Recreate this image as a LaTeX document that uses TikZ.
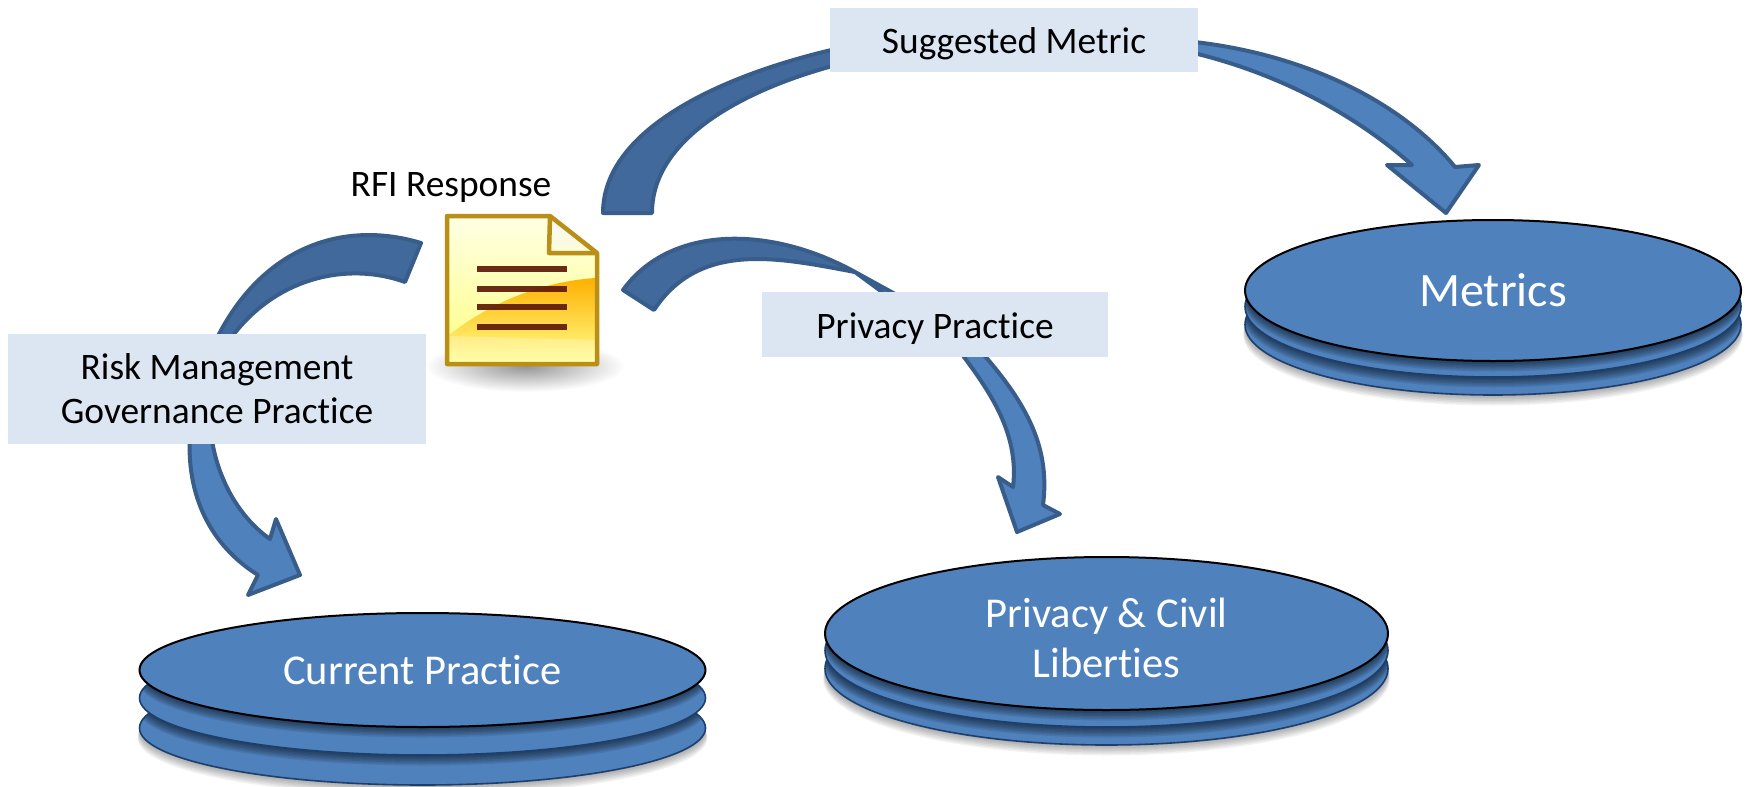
\documentclass[tikz,border=0pt]{standalone}
\usepackage{fontspec}
\setmainfont[Ligatures=NoCommon]{Carlito}
\usetikzlibrary{shapes.geometric}
\definecolor{lightblue}{HTML}{4F81BD}
\definecolor{darkblue}{HTML}{41699B}
\definecolor{edgeblue}{HTML}{385D8A}
\definecolor{labelfill}{HTML}{DCE6F2}
\definecolor{layeredge}{HTML}{1C3F6E}
\definecolor{docedge}{HTML}{B98F18}
\definecolor{docline}{HTML}{5E1A08}
\newcommand{\softshadow}[5]{% cx cy rx ry opacity
  \foreach \d in {1,...,7}{
    \fill[black,opacity=#5] (#1,#2+1.5*\d) ellipse [x radius=#3+0.25*\d, y radius=#4];
  }}
\newcommand{\stackdisc}[7]{% name cx cy rx ry gap1 gap2
  \softshadow{#2}{#3+#6+#7}{#4}{#5}{0.05}
  \fill[lightblue] (#2,#3+#6+#7) ellipse [x radius=#4, y radius=#5];
  \begin{scope}
    \clip (#2,#3+#6+#7) ellipse [x radius=#4, y radius=#5];
    \softshadow{#2}{#3+#6}{#4}{#5}{0.09}
  \end{scope}
  \draw[layeredge,line width=1.6pt] (#2,#3+#6+#7) ellipse [x radius=#4, y radius=#5];
  \fill[lightblue] (#2,#3+#6) ellipse [x radius=#4, y radius=#5];
  \begin{scope}
    \clip (#2,#3+#6) ellipse [x radius=#4, y radius=#5];
    \softshadow{#2}{#3}{#4}{#5}{0.09}
  \end{scope}
  \draw[layeredge,line width=1.6pt] (#2,#3+#6) ellipse [x radius=#4, y radius=#5];
}
\tikzset{
  backarrow/.style={fill=darkblue,draw=edgeblue,line width=4pt,line join=round},
  frontarrow/.style={fill=lightblue,draw=edgeblue,line width=4pt,line join=round},
  labelbox/.style={fill=labelfill,draw=none,inner sep=0pt,align=center,text=black,font=\fontsize{37.4}{44}\selectfont},
  disc/.style={ellipse,fill=lightblue,draw=black,line width=2pt,inner sep=0pt,align=center,text=white,font=\fontsize{42.5}{50}\selectfont},
  plain/.style={inner sep=0pt,text=black,font=\fontsize{37.4}{44}\selectfont},
  docrule/.style={docline,line width=5.5pt,opacity=0.92}
}
\begin{document}
\begin{tikzpicture}[x=1pt,y=-1pt]
\useasboundingbox (0,0) rectangle (1748,787);
\fill[white] (0,0) rectangle (1748,787);

% discs
\stackdisc{cur}{422.5}{670}{283}{57}{28}{30}
\node[disc,minimum width=566pt,minimum height=114pt] (current) at (422.5,670) {Current Practice};
\stackdisc{pri}{1106.5}{633.5}{281.5}{76.5}{17}{18}
\node[disc,minimum width=563pt,minimum height=153pt] (privacy) at (1106.5,633.5) {\rule{0pt}{38pt}Privacy \& Civil\\Liberties};
\stackdisc{met}{1493}{290.5}{248}{70.5}{16}{18}
\node[disc,minimum width=496pt,minimum height=141pt,font=\fontsize{48}{50}\selectfont] (metrics) at (1493,290.5) {Metrics};

% document shadow
\shade[inner color=black!42,outer color=white] (525,366) ellipse [x radius=100, y radius=26];

% document
\coordinate (docTL) at (447,216);
\coordinate (docFold) at (550,216);
\coordinate (docFoldB) at (597,253);
\coordinate (docBR) at (597,364);
\coordinate (docBL) at (447,364);
\shade[top color=white!90!yellow,bottom color=yellow!50!white] (docTL) -- (docFold) -- (docFoldB) -- (docBR) -- (docBL) -- cycle;
\shade[top color=orange!62!yellow,bottom color=yellow!45!white] (595,278) .. controls (540,282) and (490,303) .. (449,335) -- (449,362) -- (595,362) -- cycle;
\fill[white,opacity=0.25] (449,336) -- (449,362) -- (595,362) -- (595,340) -- cycle;
\shade[top color=white!95!gray,bottom color=black!10!yellow!15!white] (docFold) -- (docFoldB) -- (548,253) -- cycle;
\draw[docedge,line width=4.5pt,line join=round] (docTL) -- (docFold) -- (docFoldB) -- (docBR) -- (docBL) -- cycle;
\draw[docedge,line width=4.5pt,line join=round] (docFold) -- (549,253) -- (docFoldB);
\foreach \yy in {269,289,307,327}{
  \draw[docrule] (477,\yy) -- (567,\yy);
}

% left arrow (Current Practice)
\coordinate (curTip) at (300,575);
\coordinate (curBarbA) at (248,595);
\coordinate (curBarbB) at (276,519);
\draw[backarrow] (421,243) .. controls (345,220) and (262,245) .. (215,342)
  -- (228,342) .. controls (275,275) and (350,262) .. (405,282) -- cycle;
\draw[frontarrow] (190,434) .. controls (186,495) and (210,545) .. (258,575)
  -- (curBarbA) -- (curTip) -- (curBarbB) -- (270,539) .. controls (240,518) and (217,480) .. (211,434) -- cycle;

% top arrow (Metrics)
\coordinate (metTip) at (1446,213);
\coordinate (metBarbA) at (1387,165);
\coordinate (metBarbB) at (1479,165);
\draw[backarrow] (603,213) .. controls (603,130) and (720,75) .. (840,48)
  -- (840,64) .. controls (740,90) and (652,140) .. (652,213) -- cycle;
\draw[frontarrow] (1185,41) .. controls (1300,52) and (1400,100) .. (1455,167)
  -- (metBarbB) -- (metTip) -- (metBarbA) -- (1412,165) .. controls (1350,110) and (1270,70) .. (1185,51) -- cycle;

% middle arrow (Privacy)
\coordinate (priTip) at (1017,532);
\coordinate (priBarbA) at (998,477);
\coordinate (priBarbB) at (1060,514);
\draw[backarrow] (623,290) .. controls (670,225) and (770,225) .. (855,272)
  .. controls (780,258) and (700,240) .. (654,310) -- cycle;
\draw[frontarrow] (855,272) -- (906,300) -- (893,300) -- cycle;
\draw[frontarrow] (975,345) .. controls (1030,405) and (1050,450) .. (1043,505)
  -- (priBarbB) -- (priTip) -- (priBarbA) -- (1013,487) .. controls (1020,430) and (985,385) .. (955,345) -- cycle;

% labels
\node[labelbox,minimum width=368pt,minimum height=64pt] (lblMetric) at (1014,40) {\rule{0pt}{34pt}Suggested Metric};
\node[labelbox,minimum width=418pt,minimum height=110pt] (lblRisk) at (217,389) {Risk Management\\Governance Practice};
\node[labelbox,minimum width=346pt,minimum height=65pt] (lblPriv) at (935,324.5) {\rule{0pt}{34pt}Privacy Practice};
\node[plain] (rfi) at (451,188) {RFI Response};
\end{tikzpicture}
\end{document}
